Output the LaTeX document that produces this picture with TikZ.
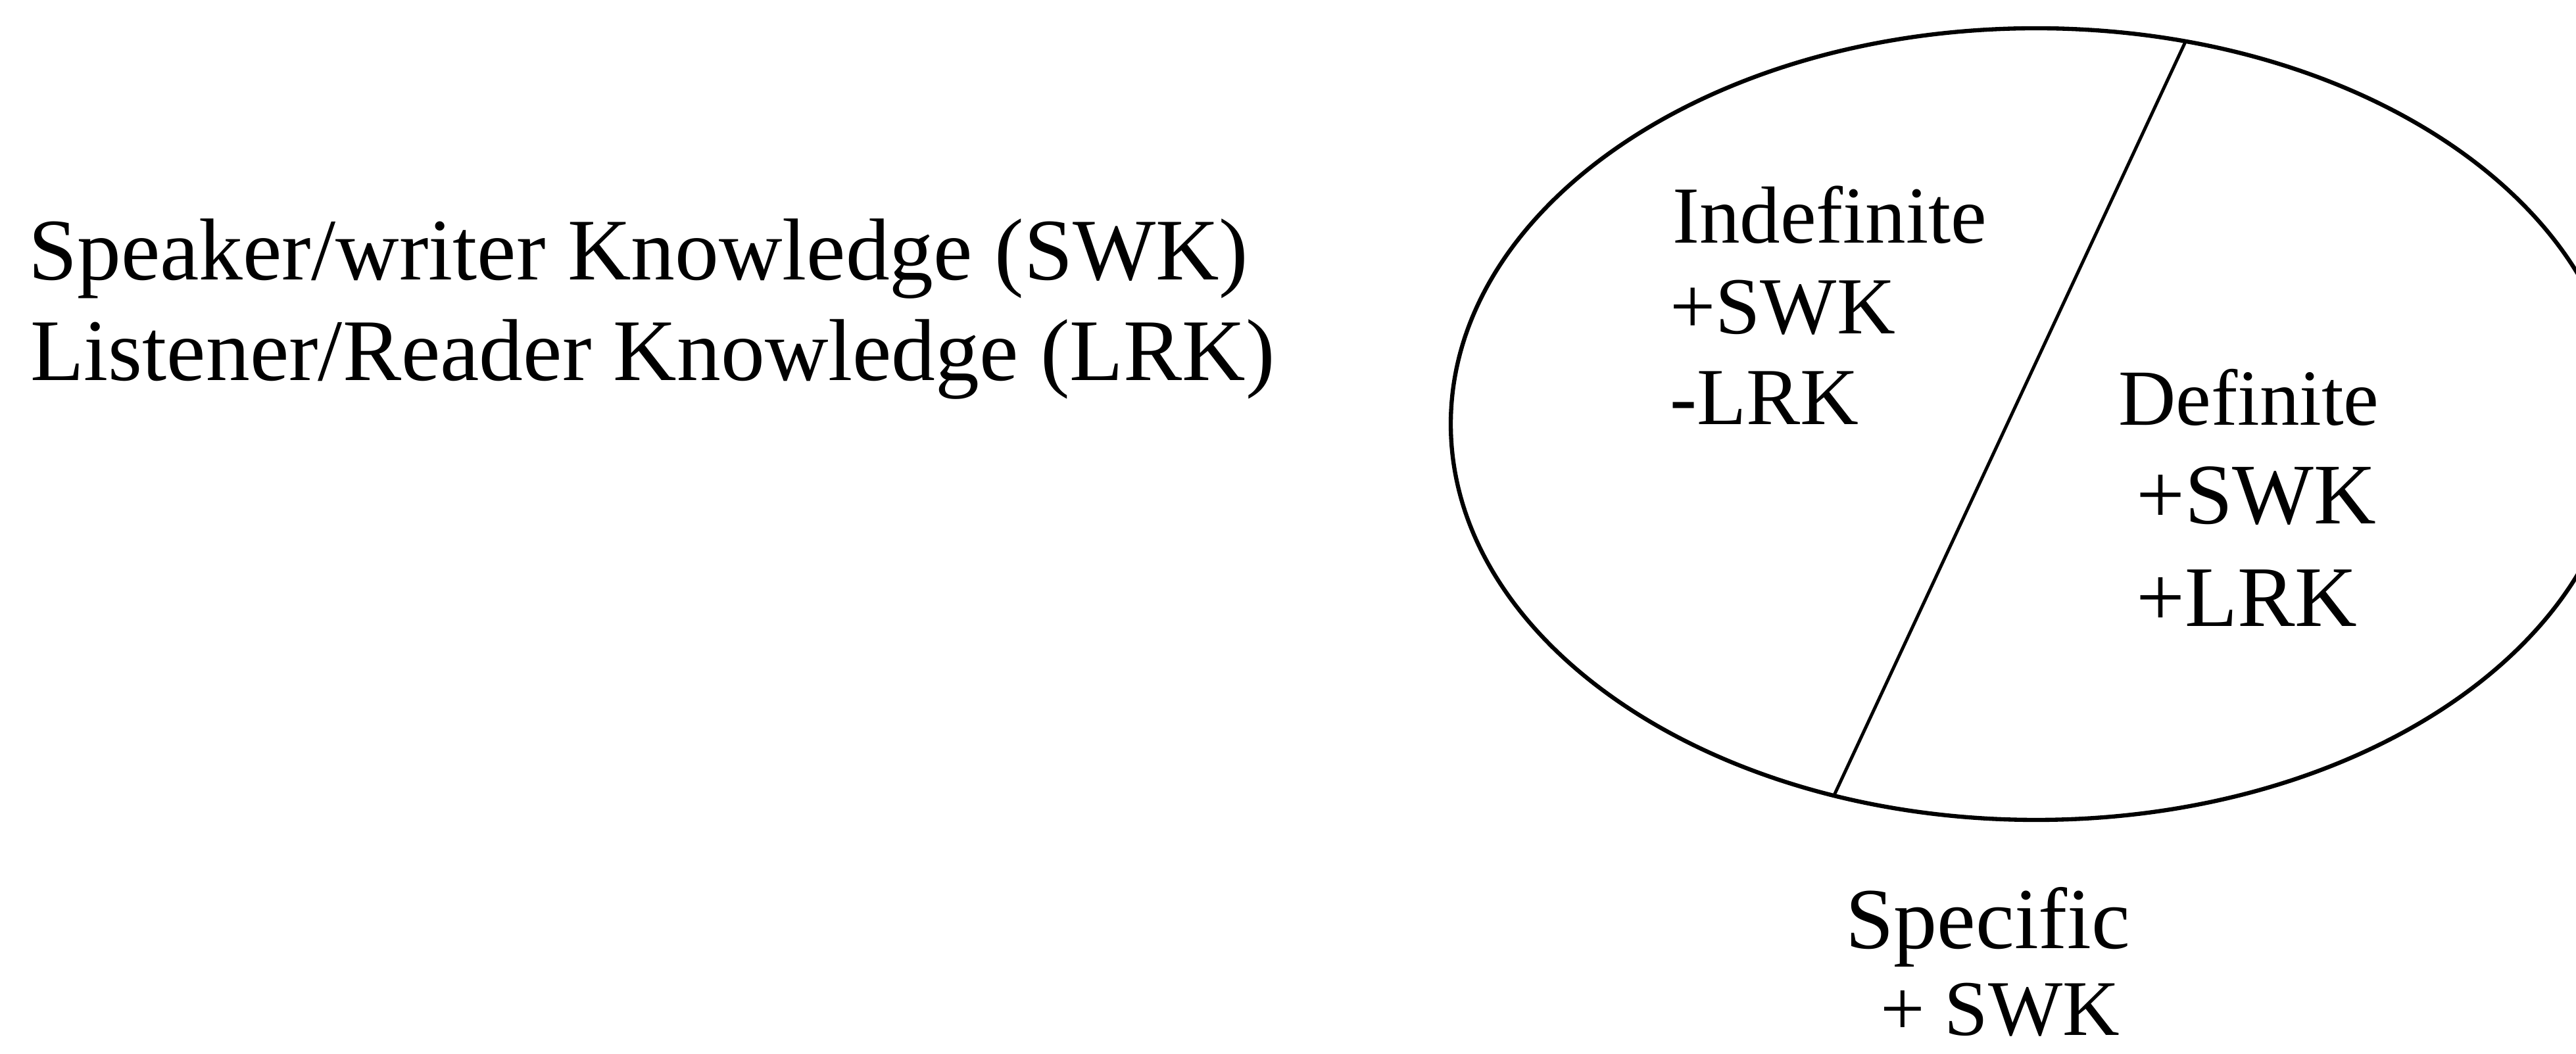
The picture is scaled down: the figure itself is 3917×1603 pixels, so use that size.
\documentclass[tikz,border=0pt]{standalone}
\usepackage{fontspec}
\setmainfont{Liberation Serif}
\begin{document}
\begin{tikzpicture}[x=0.01cm,y=0.01cm,
  lbl/.style={anchor=base west,inner sep=0pt,outer sep=0pt,text=black,text depth=0pt},
  fsize/.style={font=\fontsize{#1}{#1}\selectfont},
  rim/.style={draw=black,line width=1.8pt},
  divider/.style={draw=black,line width=1.4pt}]
\useasboundingbox (0,0) rectangle (3917,1603);

% legend
\node[lbl,fsize=38pt] (spk) at (43,1177) {Speaker/writer Knowledge (SWK)};
\node[lbl,fsize=38pt] (lst) at (46,1024) {Listener/Reader Knowledge (LRK)};

% the ellipse and its dividing line
\coordinate (ctr) at (3096,958);
\draw[rim] (ctr) ellipse [x radius=890, y radius=602];
\coordinate (dtop) at ([shift={(ctr)}]75.2:890 and 602);
\coordinate (dbot) at ([shift={(ctr)}]-110.2:890 and 602);
\draw[divider] (dtop) -- (dbot);

% left region
\node[lbl,fsize=35pt] (indef) at (2543,1233) {Indefinite};
\node[lbl,fsize=35pt] (iswk) at (2539,1095) {+SWK};
\node[lbl,fsize=35pt] (ilrk) at (2539,957) {-LRK};

% right region
\node[lbl,fsize=34.4pt] (def) at (3221,956) {Definite};
\node[lbl,fsize=37.3pt] (dswk) at (3248,806) {+SWK};
\node[lbl,fsize=37.3pt] (dlrk) at (3248,650) {+LRK};

% below the ellipse
\node[lbl,fsize=37.6pt] (spec) at (2806,160) {Specific};
\node[lbl,fsize=34.1pt] (sswk) at (2859,28) {+ SWK};
\end{tikzpicture}
\end{document}
